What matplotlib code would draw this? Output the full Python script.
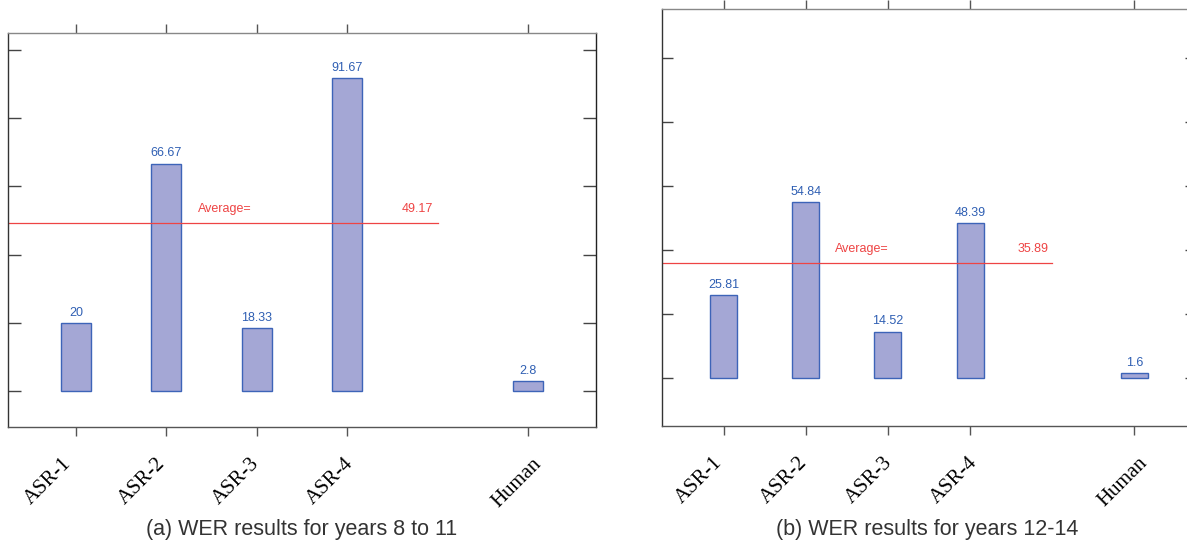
import matplotlib.pyplot as plt
from matplotlib.transforms import ScaledTranslation

systems = ['ASR-1', 'ASR-2', 'ASR-3', 'ASR-4', 'Human']
positions = [0, 1, 2, 3, 5]

wer_8_11 = [20, 66.67, 18.33, 91.67, 2.8]
avg_8_11 = 49.17
wer_12_14 = [25.81, 54.84, 14.52, 48.39, 1.6]
avg_12_14 = 35.89

bar_fill = '#a4a7d5'
bar_edge = '#3d64b8'
label_blue = '#2f5fb3'
avg_red = '#ee4444'


def draw_panel(fig, ax, values, avg, ylim, tick_len, shift0, shift_step):
    ax.bar(positions, values, width=0.33, color=bar_fill, edgecolor=bar_edge, linewidth=1.0)
    for x, v in zip(positions, values):
        ax.annotate(f'{v:g}', (x, v), xytext=(0, 3), textcoords='offset points',
                    ha='center', va='bottom', color=label_blue, fontsize=9,
                    family='Liberation Sans')

    # average line runs from the left edge to x = 4
    ax.plot([-0.75, 4], [avg, avg], color=avg_red, linewidth=0.9)
    ax.text(1.35, avg + 2.5, 'Average=', color=avg_red, fontsize=9,
            family='Liberation Sans', va='bottom', ha='left')
    ax.text(3.95, avg + 2.5, f'{avg:g}', color=avg_red, fontsize=9,
            family='Liberation Sans', va='bottom', ha='right')

    ax.set_xlim(-0.75, 5.75)
    ax.set_ylim(*ylim)
    ax.set_xticks(positions)
    ax.set_xticklabels(systems, rotation=45, ha='right', rotation_mode='anchor',
                       family='Liberation Serif', fontsize=15)
    ax.set_yticks([0, 20, 40, 60, 80, 100])
    ax.set_yticklabels([])

    ax.tick_params(axis='x', which='both', direction='out', length=6.5, width=1,
                   top=True, bottom=True, color='#555', pad=13)
    ax.tick_params(axis='y', which='both', direction='in', length=tick_len, width=1,
                   left=True, right=True, color='#444')

    # labels in the original are spread a bit wider than the ticks
    for lab, p in zip(ax.get_xticklabels(), positions):
        dx = (shift0 + shift_step * p) / 100
        lab.set_transform(lab.get_transform() + ScaledTranslation(dx, 0, fig.dpi_scale_trans))

    ax.spines['left'].set_color('#333')
    ax.spines['right'].set_color('#222')
    ax.spines['top'].set_color('#888')
    ax.spines['bottom'].set_color('#555')
    for s in ax.spines.values():
        s.set_linewidth(1.0)


fig = plt.figure(figsize=(11.87, 5.5), dpi=100)

ax1 = fig.add_axes([8 / 1187, 123 / 550, 588 / 1187, 394 / 550])
draw_panel(fig, ax1, wer_8_11, avg_8_11, (-10.6, 105), 9.4, -14, 3.6)

# right panel runs past the edge of the figure, as in the original
ax2 = fig.add_axes([662 / 1187, 124 / 550, 534 / 1187, 417 / 550])
draw_panel(fig, ax2, wer_12_14, avg_12_14, (-15, 115.3), 8, -11, 3.0)

fig.text(302 / 1187, 20 / 550, '(a) WER results for years 8 to 11', ha='center', va='center',
         fontsize=15.5, color='#333', family='Liberation Sans')
fig.text(927 / 1187, 20 / 550, '(b) WER results for years 12-14', ha='center', va='center',
         fontsize=15.5, color='#333', family='Liberation Sans')

fig.savefig('out.png', dpi=100)
